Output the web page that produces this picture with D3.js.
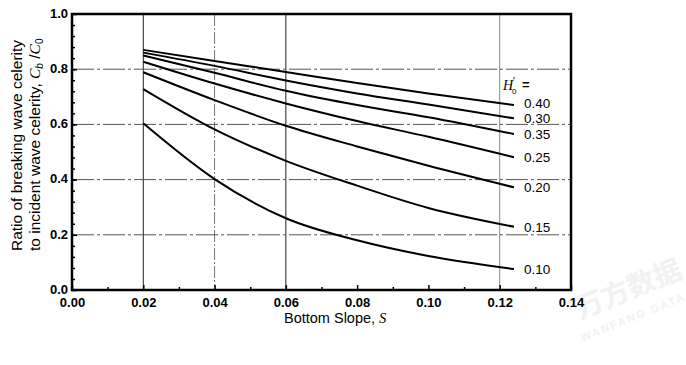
<!DOCTYPE html>
<html>
<head>
<meta charset="utf-8">
<script src="https://cdn.jsdelivr.net/npm/d3@7"></script>
<style>
  body { margin: 0; background: #fff; }
  svg { display: block; }
</style>
</head>
<body>
<svg id="chart" width="686" height="365"></svg>
<script>
// Bottom slope values where each curve is sampled
const slopes = [0.02, 0.04, 0.06, 0.08, 0.10, 0.124];

// Cb/C0 for each deep-water wave steepness H0'
const h040 = [0.870, 0.830, 0.790, 0.750, 0.712, 0.670];
const h030 = [0.860, 0.812, 0.759, 0.712, 0.672, 0.622];
const h035 = [0.850, 0.787, 0.722, 0.670, 0.626, 0.565];
const h025 = [0.827, 0.748, 0.676, 0.612, 0.555, 0.481];
const h020 = [0.789, 0.688, 0.595, 0.520, 0.450, 0.372];
const h015 = [0.728, 0.582, 0.468, 0.378, 0.297, 0.229];
const h010 = [0.604, 0.402, 0.260, 0.180, 0.123, 0.076];

const seriesNames = ["0.40", "0.30", "0.35", "0.25", "0.20", "0.15", "0.10"];
const seriesValues = [h040, h030, h035, h025, h020, h015, h010];

const xTicks = [0.00, 0.02, 0.04, 0.06, 0.08, 0.10, 0.12, 0.14];
const yTicks = [0.0, 0.2, 0.4, 0.6, 0.8, 1.0];
const xGrid = [0.02, 0.04, 0.06, 0.12];
const yGrid = [0.2, 0.4, 0.6, 0.8];

const svg = d3.select("#chart");
const plotL = 72, plotR = 571, plotT = 14, plotB = 290;

const x = d3.scaleLinear().domain([0, 0.14]).range([plotL, plotR]);
const y = d3.scaleLinear().domain([0, 1]).range([plotB, plotT]);

const font = "'Liberation Sans', Arial, sans-serif";
const serif = "'Liberation Serif', 'Times New Roman', serif";

// faint background mark in the lower right corner
const wm = svg.append("g")
  .attr("transform", "translate(632,298) rotate(-22)")
  .attr("fill", "#f1f1f1");
wm.append("text").attr("x", 0).attr("y", 0).attr("text-anchor", "middle")
  .attr("font-family", "'Noto Sans CJK SC', sans-serif")
  .attr("font-size", 28).attr("font-weight", "bold").text("万方数据");
wm.append("text").attr("x", -6).attr("y", 22).attr("text-anchor", "middle")
  .attr("font-size", 11).attr("font-weight", "bold").attr("font-family", font)
  .attr("letter-spacing", 2).text("WANFANG DATA");

// grid
const grid = svg.append("g");
grid.selectAll("line.vx").data(xGrid).enter().append("line")
  .attr("x1", d => x(d)).attr("x2", d => x(d))
  .attr("y1", plotT).attr("y2", plotB)
  .attr("stroke", d => d === 0.04 ? "#777" : (d === 0.12 ? "#888" : "#222"))
  .attr("stroke-width", 1)
  .attr("stroke-dasharray", d => d === 0.04 ? "12,2,2,2" : null);
grid.selectAll("line.hy").data(yGrid).enter().append("line")
  .attr("x1", plotL).attr("x2", plotR)
  .attr("y1", d => y(d)).attr("y2", d => y(d))
  .attr("stroke", "#555")
  .attr("stroke-width", 1)
  .attr("stroke-dasharray", "22,3,3,3");

// axes with inward ticks
const xAxis = d3.axisBottom(x).tickValues(xTicks).tickSize(-5).tickFormat(d3.format(".2f"));
const xMinor = d3.axisBottom(x).tickValues(d3.range(0.01, 0.14, 0.02)).tickSize(-3).tickFormat("");
const yAxis = d3.axisLeft(y).tickValues(yTicks).tickSize(-5).tickFormat(d3.format(".1f"));
const yMinor = d3.axisLeft(y).tickValues(d3.range(0.04, 1.0, 0.04)).tickSize(-3).tickFormat("");

function styleAxis(g) {
  g.select(".domain").remove();
  g.selectAll(".tick line").attr("stroke", "#000").attr("stroke-width", 1.5);
  g.selectAll("text").attr("font-family", font).attr("font-weight", "bold")
    .attr("font-size", 13).attr("fill", "#000");
}

svg.append("g").attr("transform", `translate(0,${plotB})`).call(xMinor).call(styleAxis);
svg.append("g").attr("transform", `translate(0,${plotB})`).call(xAxis).call(styleAxis)
  .selectAll("text").attr("dy", null).attr("y", 17);
svg.append("g").attr("transform", `translate(${plotL},0)`).call(yMinor).call(styleAxis);
svg.append("g").attr("transform", `translate(${plotL},0)`).call(yAxis).call(styleAxis)
  .selectAll("text").attr("x", -4).attr("dy", "0.25em");

// frame
svg.append("rect")
  .attr("x", plotL).attr("y", plotT)
  .attr("width", plotR - plotL).attr("height", plotB - plotT)
  .attr("fill", "none").attr("stroke", "#000").attr("stroke-width", 2.5);

// curves
const line = d3.line()
  .x((d, i) => x(slopes[i]))
  .y(d => y(d))
  .curve(d3.curveMonotoneX);

svg.append("g").selectAll("path").data(seriesValues).enter().append("path")
  .attr("d", d => line(d))
  .attr("fill", "none")
  .attr("stroke", "#000")
  .attr("stroke-width", 2);

// curve labels at line ends; a label too close to the one below it is nudged up
const lastS = slopes[slopes.length - 1];
const labelPos = seriesValues.map(v => y(v[v.length - 1]));
const minGap = 15;
for (let i = labelPos.length - 2; i >= 0; i--) {
  if (labelPos[i + 1] - labelPos[i] < minGap) labelPos[i] = labelPos[i + 1] - minGap;
}
svg.append("g").selectAll("text").data(seriesValues).enter().append("text")
  .attr("x", x(lastS) + 10)
  .attr("y", (d, i) => labelPos[i])
  .attr("dy", "0.35em")
  .attr("font-family", font).attr("font-size", 13.5).attr("fill", "#000")
  .text((d, i) => seriesNames[i]);

// legend heading H0' =
const hd = svg.append("g").attr("font-family", font).attr("fill", "#000");
hd.append("text").attr("x", 503).attr("y", 90)
  .attr("font-style", "italic").attr("font-family", serif).attr("font-size", 14).text("H");
hd.append("text").attr("x", 513).attr("y", 85).attr("font-size", 10).text("′");
hd.append("text").attr("x", 512).attr("y", 94).attr("font-size", 8).text("0");
hd.append("text").attr("x", 522).attr("y", 89).attr("font-size", 13).attr("font-weight", "bold").text("=");

// axis titles
const xt = svg.append("text").attr("x", 284).attr("y", 323)
  .attr("font-family", font).attr("font-size", 14.5).attr("fill", "#000");
xt.append("tspan").text("Bottom Slope,  ");
xt.append("tspan").attr("font-style", "italic").attr("font-family", serif).text("S");

const yt = svg.append("g").attr("transform", "rotate(-90)");
yt.append("text").attr("x", -251).attr("y", 22)
  .attr("font-family", font).attr("font-size", 15.5).attr("fill", "#000")
  .text("Ratio of breaking wave celerity");
const yt2 = yt.append("text").attr("x", -251).attr("y", 40)
  .attr("font-family", font).attr("font-size", 15.5).attr("fill", "#000");
yt2.append("tspan").text("to incident wave celerity,  ");
yt2.append("tspan").attr("font-style", "italic").attr("font-family", serif).text("C");
yt2.append("tspan").attr("font-size", 10).attr("dy", 3).attr("font-style", "italic").text("b");
yt2.append("tspan").attr("dy", -3).text(" /");
yt2.append("tspan").attr("font-style", "italic").attr("font-family", serif).text("C");
yt2.append("tspan").attr("font-size", 10).attr("dy", 3).text("0");
</script>
</body>
</html>
